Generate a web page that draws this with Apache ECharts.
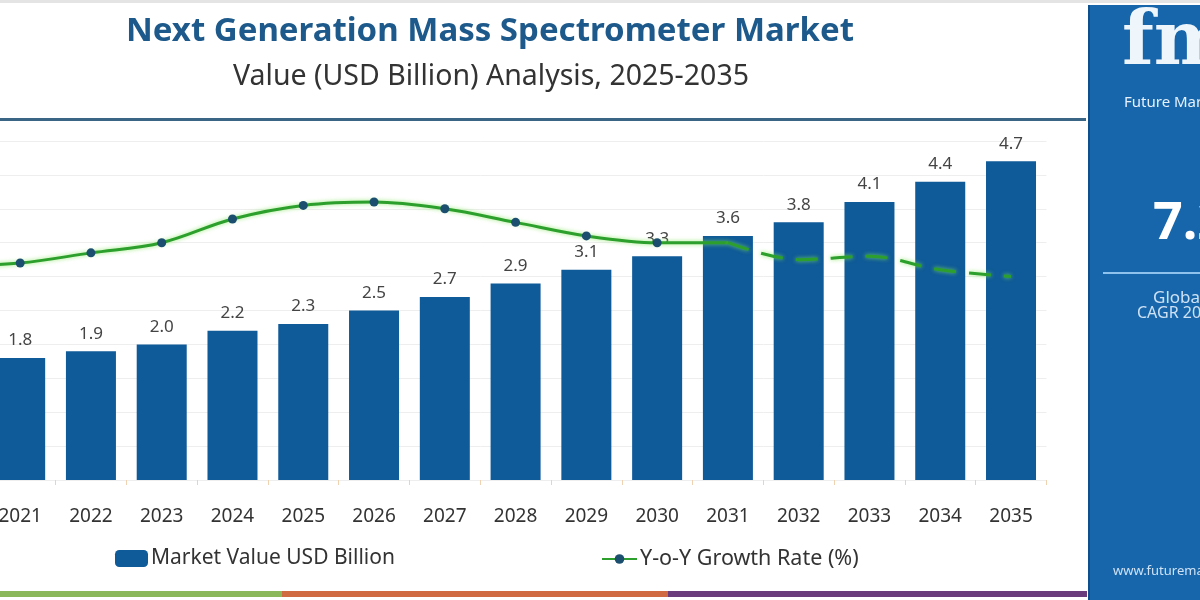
<!DOCTYPE html>
<html>
<head>
<meta charset="utf-8">
<script src="https://cdn.jsdelivr.net/npm/echarts@6/dist/echarts.min.js"></script>
<style>
  html, body { margin: 0; padding: 0; background: #fff; overflow: hidden; }
  /* the chart is wider than the window and shifted left so the 2020 band sits off-screen */
  #chart { width: 1286px; height: 600px; margin-left: -86px; }
</style>
</head>
<body>
<div id="chart"></div>
<script>
// 2020 sits just off the left edge: only its growth-rate segment is visible
const years = ["2020", "2021", "2022", "2023", "2024", "2025", "2026", "2027",
  "2028", "2029", "2030", "2031", "2032", "2033", "2034", "2035"]
const marketValue = [null, 1.8, 1.9, 2.0, 2.2, 2.3, 2.5, 2.7, 2.9, 3.1, 3.3, 3.6, 3.8, 4.1, 4.4, 4.7]
const growthRate = [6.3, 6.4, 6.7, 7.0, 7.7, 8.1, 8.2, 8.0, 7.6, 7.2, 7.0, 7.0, 6.5, 6.6, 6.2, 6.0]
const lastMarked = "2030"   // markers stop here
const solidUntil = "2031"   // projection dashes start here

const FONT = "Noto Sans"
const OFF = 86 // canvas x of the window's left edge
const markIdx = years.indexOf(lastMarked)
const solidIdx = years.indexOf(solidUntil)

const solidData = growthRate.map((v, i) => {
  if (i > solidIdx) return "-"
  if (i > markIdx) return { value: v, symbol: "none" }
  return v
})
const dashedData = growthRate.map((v, i) => (i >= solidIdx ? v : "-"))

const rect = (x, y, w, h, fill) => ({
  type: "rect",
  shape: { x: x + OFF, y, width: w, height: h },
  style: { fill }
})
const label = (x, y, text, fill, font) => ({
  type: "text",
  left: x + OFF,
  top: y,
  style: { text, fill, font }
})

const chart = echarts.init(document.getElementById("chart"))

chart.setOption({
  backgroundColor: "#ffffff",
  animation: false,
  title: [
    {
      text: "Next Generation Mass Spectrometer Market",
      left: 485 + OFF,
      top: 10,
      textAlign: "center",
      textStyle: { fontFamily: FONT, fontSize: 33, fontWeight: "bold", color: "#1d5a8b" }
    },
    {
      text: "Value (USD Billion) Analysis, 2025-2035",
      left: 486 + OFF,
      top: 57,
      textAlign: "center",
      textStyle: { fontFamily: FONT, fontSize: 28.5, fontWeight: "normal", color: "#333333" }
    }
  ],
  legend: [
    {
      data: ["Market Value USD Billion"],
      left: 110 + OFF,
      top: 543,
      itemWidth: 33,
      itemHeight: 17,
      textStyle: { fontFamily: FONT, fontSize: 21, color: "#333333", padding: [0, 0, 0, -2] }
    },
    {
      data: ["Y-o-Y Growth Rate (%)"],
      left: 596 + OFF,
      top: 543,
      itemWidth: 35,
      itemHeight: 12,
      textStyle: { fontFamily: FONT, fontSize: 21.5, color: "#333333", padding: [0, 0, 0, -2] }
    }
  ],
  grid: {
    left: 0,
    right: 153.6,
    top: 141,
    bottom: 120
  },
  xAxis: {
    type: "category",
    data: years,
    axisLine: { show: false },
    axisTick: { show: true, length: 5, lineStyle: { color: "#efd3b0" } },
    axisLabel: { fontFamily: FONT, fontSize: 19, color: "#333333", margin: 27 }
  },
  yAxis: [
    {
      type: "value",
      min: 0,
      max: 5,
      interval: 0.5,
      axisLabel: { show: false },
      axisLine: { show: false },
      axisTick: { show: false },
      splitLine: { lineStyle: { color: "#eeeeee" } }
    },
    {
      type: "value",
      min: 0,
      max: 10,
      show: false,
      splitLine: { show: false }
    }
  ],
  series: [
    {
      name: "Market Value USD Billion",
      type: "bar",
      data: marketValue,
      barWidth: 50,
      itemStyle: { color: "#0f5a98" },
      label: {
        show: true,
        position: "top",
        distance: 9,
        fontFamily: FONT,
        fontSize: 17,
        color: "#444444",
        formatter: (p) => p.value.toFixed(1)
      }
    },
    {
      name: "Y-o-Y Growth Rate (%)",
      type: "line",
      yAxisIndex: 1,
      data: solidData,
      smooth: 0.35,
      symbol: "circle",
      symbolSize: 9,
      itemStyle: { color: "#1c4f6f" },
      lineStyle: {
        color: "#2c9f2c",
        width: 3,
        shadowColor: "rgba(130, 230, 90, 0.8)",
        shadowBlur: 4
      },
      z: 5
    },
    {
      name: "projection",
      type: "line",
      yAxisIndex: 1,
      data: dashedData,
      smooth: 0.35,
      symbol: "none",
      lineStyle: {
        color: "#2c9f2c",
        width: 3,
        type: [22, 13],
        shadowColor: "rgba(130, 230, 90, 0.8)",
        shadowBlur: 4
      },
      z: 5
    }
  ],
  graphic: [
    // thin frame line along the top
    rect(0, 0, 1200, 3, "#e4e4e4"),
    // header separator
    rect(0, 118, 1086, 3, "#3a6585"),
    // bottom colour stripes
    rect(0, 591, 282, 6, "#8cb85c"),
    rect(282, 591, 386, 6, "#d06a43"),
    rect(668, 591, 419, 6, "#6b3c7c"),
    // side panel
    rect(1088, 5, 112, 595, "#1766ab"),
    rect(1088, 5, 2, 595, "#0e4f8c"),
    label(1122, 8, "fmi", "#eef5fb", "bold 74px 'DejaVu Serif'"),
    label(1124, 95, "Future Market Insights", "#e6f0fa", "15px 'Noto Sans'"),
    label(1153, 198, "7.2%", "#ffffff", "bold 52px 'Noto Sans'"),
    rect(1103, 272, 97, 2, "#8fc3ee"),
    label(1153, 290, "Global Market", "#cfe2f4", "17px 'Noto Sans'"),
    label(1137, 305, "CAGR 2025-2035", "#cfe2f4", "16px 'Noto Sans'"),
    label(1113, 565, "www.futuremarketinsights.com", "#cfe2f4", "13px 'Noto Sans'")
  ]
})
</script>
</body>
</html>
